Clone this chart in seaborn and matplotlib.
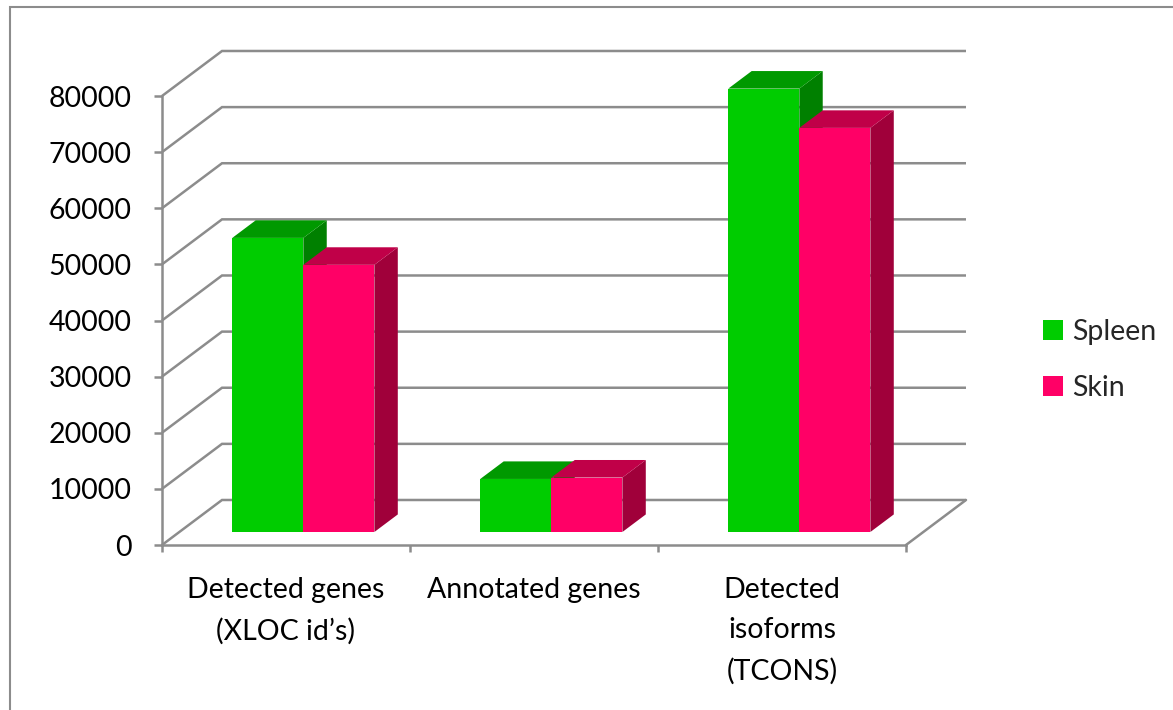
import numpy as np
import pandas as pd
import matplotlib
matplotlib.use("Agg")
import matplotlib.pyplot as plt
from matplotlib.patches import Polygon, Patch, Rectangle
import seaborn as sns

# ---- data -------------------------------------------------------------
categories = ["Detected genes\n(XLOC id\u2019s)", "Annotated genes", "Detected\nisoforms\n(TCONS)"]
series_names = ["Spleen", "Skin"]
spleen_values = [52400, 9450, 79000]
skin_values = [47600, 9700, 72000]
y_ticks = [0, 10000, 20000, 30000, 40000, 50000, 60000, 70000, 80000]

# ---- styling ----------------------------------------------------------
front_colors = ["#00CC00", "#FF0066"]
top_colors = ["#009900", "#C00048"]
side_colors = ["#008000", "#A0003A"]
grid_color = "#8C8C8C"
FONT = 20.5

sns.set_theme(style="white")
plt.rcParams["font.family"] = ["Lato", "DejaVu Sans"]

df = pd.DataFrame({
    "category": categories * 2,
    "count": spleen_values + skin_values,
    "tissue": [series_names[0]] * 3 + [series_names[1]] * 3,
})

fig = plt.figure(figsize=(11.73, 7.10), dpi=100)
ax = fig.add_axes([162 / 1173, 1 - 545 / 710, 803 / 1173, 493 / 710])

sns.barplot(data=df, x="category", y="count", hue="tissue", order=categories,
            hue_order=series_names, palette=front_colors, width=0.573,
            saturation=1, legend=False, ax=ax, zorder=3)

# oblique projection: full depth of the floor in data units
DX, DY = 0.242, 8020.0
F0, DEPTH = 0.289, 0.39   # bar front depth and bar thickness as fractions

ax.set_xlim(-0.5, 2.738)
ax.set_ylim(0, 87840)

# walls: diagonal + back gridlines for each y tick
for v in y_ticks:
    ax.plot([-0.5, -0.5 + DX, 2.5 + DX], [v, v + DY, v + DY],
            color=grid_color, lw=1.8, zorder=1, solid_capstyle="butt",
            solid_joinstyle="miter", clip_on=False)
# right edge of floor
ax.plot([2.5, 2.5 + DX], [0, DY], color=grid_color, lw=1.8, zorder=1, clip_on=False)

# turn flat bars into boxes
bars = list(ax.patches)
n_cat = len(categories)
for i, bar in enumerate(bars):
    k = i // n_cat
    x, w, h = bar.get_x(), bar.get_width(), bar.get_height()
    x0 = x + F0 * DX
    y0 = F0 * DY
    bar.set_x(x0)
    bar.set_y(y0)
    bar.set_edgecolor("none")
    bar.set_linewidth(0)
    dx, dy = DEPTH * DX, DEPTH * DY
    z = 3 + i * 0.01
    bar.set_zorder(z)
    top = Polygon([(x0, y0 + h), (x0 + w, y0 + h), (x0 + w + dx, y0 + h + dy), (x0 + dx, y0 + h + dy)],
                  closed=True, facecolor=top_colors[k], edgecolor="none", zorder=z)
    side = Polygon([(x0 + w, y0), (x0 + w + dx, y0 + dy), (x0 + w + dx, y0 + h + dy), (x0 + w, y0 + h)],
                   closed=True, facecolor=side_colors[k], edgecolor="none", zorder=z)
    ax.add_patch(side)
    ax.add_patch(top)

# axes lines and ticks
for s in ["top", "right"]:
    ax.spines[s].set_visible(False)
ax.spines["left"].set_bounds(0, 80000)
ax.spines["bottom"].set_bounds(-0.5, 2.5)
for s in ["left", "bottom"]:
    ax.spines[s].set_color(grid_color)
    ax.spines[s].set_linewidth(1.8)
    ax.spines[s].set_zorder(2)

ax.set_yticks(y_ticks)
ax.set_yticklabels([str(v) for v in y_ticks])
ax.tick_params(axis="y", which="major", left=True, length=6, width=1.8, color=grid_color,
               pad=16, labelsize=FONT, labelcolor="black")

ax.set_xticks([-0.5, 0.5, 1.5, 2.5])
ax.set_xticklabels(["", "", "", ""])
ax.set_xticks([0, 1, 2], categories, minor=True)
ax.tick_params(axis="x", which="major", bottom=True, length=5, width=1.8, color=grid_color)
ax.tick_params(axis="x", which="minor", bottom=False, length=0, pad=23, labelsize=FONT,
               labelcolor="black")
for lbl in ax.get_xticklabels(minor=True):
    lbl.set_linespacing(1.68)
    lbl.set_horizontalalignment("center")
ax.set_xlabel("")
ax.set_ylabel("")
ax.grid(False)
ax.patch.set_alpha(0)

# legend
handles = [Patch(facecolor=c, edgecolor="none") for c in front_colors]
fig.legend(handles, series_names, loc="upper left",
           bbox_to_anchor=(1032 / 1173, 1 - 308 / 710), frameon=False,
           fontsize=FONT, handlelength=0.7, handleheight=0.7,
           handletextpad=0.3, labelspacing=1.05, borderaxespad=0)

# chart border
fig.add_artist(Rectangle((10 / 1173, -0.1), 1.2, 1 - 7 / 710 + 0.1,
                         transform=fig.transFigure, fill=False,
                         edgecolor=grid_color, linewidth=1.5))

fig.savefig("out.png", dpi=100)
